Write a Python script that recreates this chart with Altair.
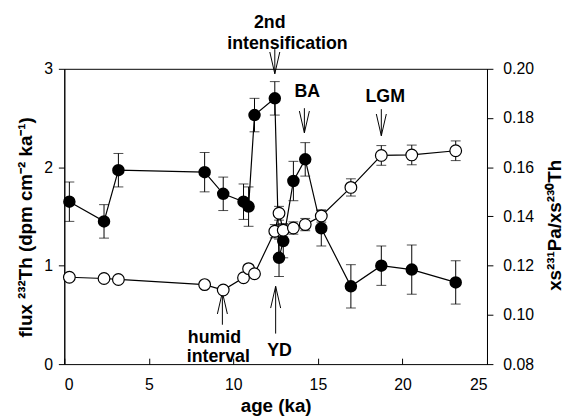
import altair as alt
import pandas as pd

# ---- data ----
age = [0.3, 2.35, 3.2, 8.3, 9.4, 10.6, 10.9, 11.25, 12.45, 12.7, 12.95,
       13.55, 14.25, 15.2, 16.95, 18.75, 20.55, 23.15]
flux = [1.65, 1.45, 1.97, 1.95, 1.73, 1.65, 1.60, 2.53, 2.70, 1.08, 1.25,
        1.86, 2.08, 1.38, 0.79, 1.00, 0.96, 0.83]
flux_err = [0.20, 0.17, 0.17, 0.20, 0.17, 0.18, 0.20, 0.17, 0.17, 0.19, 0.17,
            0.20, 0.17, 0.18, 0.22, 0.20, 0.25, 0.22]
ratio = [0.1153, 0.1148, 0.1144, 0.1123, 0.1101, 0.1151, 0.1188, 0.1167, 0.1340,
         0.1413, 0.1344, 0.1353, 0.1367, 0.1402, 0.1518, 0.1648, 0.1650, 0.1667]
ratio_err = [0.001, 0.001, 0.001, 0.001, 0.001, 0.001, 0.0015, 0.0012, 0.0027,
             0.0028, 0.0027, 0.0025, 0.0025, 0.0025, 0.0035, 0.0040, 0.0040, 0.0040]

ann_text = ["2nd", "intensification", "BA", "LGM", "humid", "interval", "YD"]
ann_age = [12.15, 13.2, 14.37, 18.98, 8.88, 9.11, 12.73]
ann_flux = [3.41, 3.20, 2.71, 2.66, 0.215, 0.02, 0.08]

arrow_age = [12.45, 14.2, 18.75, 9.35, 12.5]
arrow_tail = [3.20, 2.60, 2.59, 0.40, 0.31]
arrow_tip = [2.95, 2.35, 2.32, 0.73, 0.79]
arrow_dir = ["down", "down", "down", "up", "up"]

# ---- tables ----
df = pd.DataFrame({"age": age, "flux": flux, "ratio": ratio})
df["flo"] = [f - e for f, e in zip(flux, flux_err)]
df["fhi"] = [f + e for f, e in zip(flux, flux_err)]
df["rlo"] = [r - e for r, e in zip(ratio, ratio_err)]
df["rhi"] = [r + e for r, e in zip(ratio, ratio_err)]
fcaps = pd.DataFrame({"age": age + age, "v": list(df["flo"]) + list(df["fhi"])})
rcaps = pd.DataFrame({"age": age + age, "v": list(df["rlo"]) + list(df["rhi"])})
ann = pd.DataFrame({"age": ann_age, "v": ann_flux, "text": ann_text})
arr = pd.DataFrame({"age": arrow_age, "tail": arrow_tail, "tip": arrow_tip, "dir": arrow_dir})

FONT = "Liberation Sans"
XT = "age (ka)"
LT = "flux ²³²Th (dpm cm⁻² ka⁻¹)"
RT = "xs²³¹Pa/xs²³⁰Th"

XAX = alt.Axis(values=[0, 5, 10, 15, 20, 25], offset=-6, tickSize=6, domain=False,
               grid=False, labelPadding=13, titleBaseline="alphabetic", titleY=54,
               titleAnchor="middle")
YLAX = alt.Axis(values=[0, 1, 2, 3], tickSize=6, labelPadding=6, grid=False,
                titleBaseline="alphabetic", titleX=-33, titleY=160, titleAngle=270)
YRAX = alt.Axis(values=[0.08, 0.10, 0.12, 0.14, 0.16, 0.18, 0.20], format=".2f",
                orient="right", tickSize=6, labelPadding=10, grid=False,
                titleBaseline="alphabetic", titleX=74, titleY=158, titleAngle=270)

XS = alt.Scale(domain=[0, 25], nice=False)
YLS = alt.Scale(domain=[0, 3], nice=False)
YRS = alt.Scale(domain=[0.08, 0.20], nice=False)


def X(f):
    return alt.X(f, type="quantitative", scale=XS, axis=XAX, title=XT)


def YL(f):
    return alt.Y(f, type="quantitative", scale=YLS, axis=YLAX, title=LT)


def YR(f):
    return alt.Y(f, type="quantitative", scale=YRS, axis=YRAX, title=RT)


base = alt.Chart(df)

# flux series (filled circles, left axis)
f_err = base.mark_rule(color="black", strokeWidth=1).encode(x=X("age"), y=YL("flo"), y2="fhi")
f_cap = alt.Chart(fcaps).mark_tick(orient="horizontal", size=10, thickness=1, color="black").encode(
    x=X("age"), y=YL("v"))
f_line = base.mark_line(color="black", strokeWidth=1.2).encode(x=X("age"), y=YL("flux"))
f_pts = base.mark_point(filled=True, shape="circle", size=160, color="black", opacity=1).encode(
    x=X("age"), y=YL("flux"))

# annotations (placed in data coordinates of the left axis)
a_txt = alt.Chart(ann).mark_text(font=FONT, fontSize=18, fontWeight="bold", align="center",
                                 baseline="alphabetic", color="black").encode(
    x=X("age"), y=YL("v"), text="text:N")
a_shaft = alt.Chart(arr).mark_rule(color="black", strokeWidth=1).encode(
    x=X("age"), y=YL("tail"), y2="tip")
DOWN = "M -0.23 -1 L 0 0 L 0.23 -1"
UP = "M -0.23 1 L 0 0 L 0.23 1"
a_head = alt.Chart(arr).mark_point(filled=False, size=1936, stroke="black", strokeWidth=1,
                                   opacity=1).encode(
    x=X("age"), y=YL("tip"),
    shape=alt.Shape("dir:N", scale=alt.Scale(domain=["down", "up"], range=[DOWN, UP]), legend=None))

left = alt.layer(f_err, f_cap, f_line, f_pts, a_shaft, a_head, a_txt)

# ratio series (open circles, right axis)
r_err = base.mark_rule(color="black", strokeWidth=1).encode(x=X("age"), y=YR("rlo"), y2="rhi")
r_cap = alt.Chart(rcaps).mark_tick(orient="horizontal", size=10, thickness=1, color="black").encode(
    x=X("age"), y=YR("v"))
r_line = base.mark_line(color="black", strokeWidth=1.2).encode(x=X("age"), y=YR("ratio"))
r_pts = base.mark_point(filled=True, shape="circle", size=140, fill="white", stroke="black",
                        strokeWidth=1.2, opacity=1).encode(x=X("age"), y=YR("ratio"))

right = alt.layer(r_err, r_cap, r_line, r_pts)

chart = alt.layer(left, right).resolve_scale(y="independent").properties(
    width=428, height=299,
    autosize=alt.AutoSizeParams(type="none"),
    padding={"left": 57, "top": 59, "right": 80, "bottom": 52},
    background="white",
).configure_view(stroke="black", strokeWidth=1).configure_axis(
    labelFont=FONT, labelFontSize=16, labelColor="black",
    titleFont=FONT, titleFontSize=19, titleFontWeight="bold", titleColor="black",
    domainColor="black", tickColor="black", domainWidth=1, tickWidth=1,
)

chart.save("out.html", embed_options={"renderer": "svg", "actions": False})
